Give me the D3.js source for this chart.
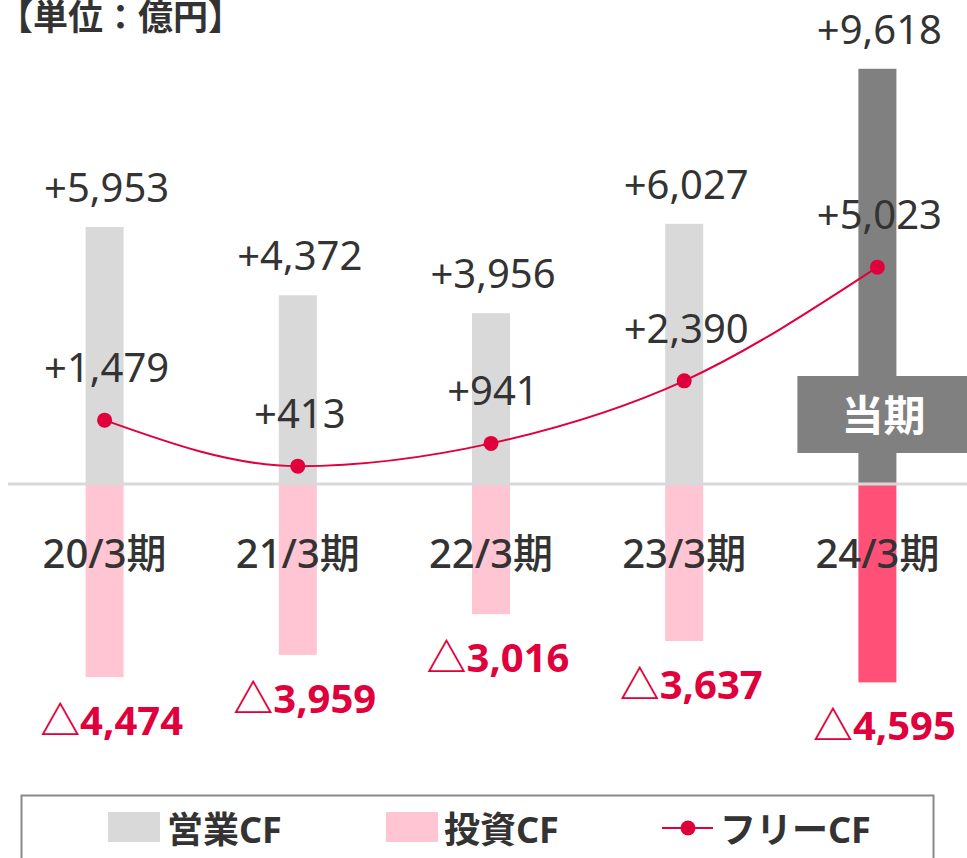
<!DOCTYPE html>
<html>
<head>
<meta charset="utf-8">
<script src="https://cdn.jsdelivr.net/npm/d3@7"></script>
<style>
  body { margin: 0; background: #fff; }
  svg { display: block; font-family: "Noto Sans", "Noto Sans CJK JP", sans-serif; }
</style>
</head>
<body>
<svg id="chart" width="967" height="858"></svg>
<script>
// data (億円)
const periods = ['20/3期', '21/3期', '22/3期', '23/3期', '24/3期'];
const operatingCF = [5953, 4372, 3956, 6027, 9618];
const investingCF = [-4474, -3959, -3016, -3637, -4595];
const freeCF = [1479, 413, 941, 2390, 5023];
const unitLabel = '【単位：億円】';
const currentLabel = '当期';
const legendNames = ['営業CF', '投資CF', 'フリーCF'];

const svg = d3.select('#chart'),
  W = 967,
  base = 484,
  k = 0.04317;

const x = d3.scaleBand().domain(periods).range([8, 974]);
const cx = d => x(d) + x.bandwidth() / 2;
const y = d3.scaleLinear().domain([-5000, 10000]).range([base + 5000 * k, base - 10000 * k]);
const fmt = d3.format(',');
const last = periods.length - 1;
const barW = 38;

// unit
svg.append('text')
  .attr('x', -2).attr('y', 30)
  .attr('font-size', 35).attr('font-weight', 'bold')
  .attr('fill', '#333')
  .text(unitLabel);

// operating CF bars
svg.selectAll('rect.op')
  .data(operatingCF)
  .enter().append('rect')
  .attr('class', 'op')
  .attr('x', (d, i) => cx(periods[i]) - barW / 2)
  .attr('y', d => y(d))
  .attr('width', barW)
  .attr('height', d => y(0) - y(d))
  .attr('fill', (d, i) => i === last ? '#808080' : '#d9d9d9');

// investing CF bars
svg.selectAll('rect.inv')
  .data(investingCF)
  .enter().append('rect')
  .attr('class', 'inv')
  .attr('x', (d, i) => cx(periods[i]) - barW / 2)
  .attr('y', y(0))
  .attr('width', barW)
  .attr('height', d => y(d) - y(0))
  .attr('fill', (d, i) => i === last ? '#ff5078' : '#ffc5d2');

// zero line
svg.append('line')
  .attr('x1', 8).attr('x2', W)
  .attr('y1', y(0)).attr('y2', y(0))
  .attr('stroke', '#d9d9d9').attr('stroke-width', 3);

// current period badge
const bx = cx(periods[last]);
svg.append('rect')
  .attr('x', bx - 80).attr('y', 376)
  .attr('width', 170).attr('height', 77)
  .attr('fill', '#808080');
svg.append('text')
  .attr('x', bx + 6).attr('y', 431)
  .attr('text-anchor', 'middle')
  .attr('font-size', 42).attr('font-weight', 'bold')
  .attr('fill', '#fff')
  .text(currentLabel);

// category labels
svg.selectAll('text.cat')
  .data(periods)
  .enter().append('text')
  .attr('class', 'cat')
  .attr('x', d => cx(d))
  .attr('y', 568)
  .attr('text-anchor', 'middle')
  .attr('font-size', 40).attr('font-weight', 500)
  .attr('fill', '#333')
  .text(d => d);

// free CF line
const line = d3.line()
  .x((d, i) => cx(periods[i]))
  .y(d => y(d))
  .curve(d3.curveMonotoneX);

svg.append('path')
  .attr('d', line(freeCF))
  .attr('fill', 'none')
  .attr('stroke', '#e0003c')
  .attr('stroke-width', 2);

svg.selectAll('circle.fcf')
  .data(freeCF)
  .enter().append('circle')
  .attr('class', 'fcf')
  .attr('cx', (d, i) => cx(periods[i]))
  .attr('cy', d => y(d))
  .attr('r', 7.5)
  .attr('fill', '#e0003c');

// labels
svg.selectAll('text.opl')
  .data(operatingCF)
  .enter().append('text')
  .attr('class', 'opl')
  .attr('x', (d, i) => cx(periods[i]) + 2)
  .attr('y', d => y(d) - 25)
  .attr('text-anchor', 'middle')
  .attr('font-size', 40)
  .attr('fill', '#333')
  .text(d => '+' + fmt(d));

svg.selectAll('text.fcfl')
  .data(freeCF)
  .enter().append('text')
  .attr('class', 'fcfl')
  .attr('x', (d, i) => cx(periods[i]) + 2)
  .attr('y', d => y(d) - 38)
  .attr('text-anchor', 'middle')
  .attr('font-size', 40)
  .attr('fill', '#333')
  .text(d => '+' + fmt(d));

svg.selectAll('text.invl')
  .data(investingCF)
  .enter().append('text')
  .attr('class', 'invl')
  .attr('x', (d, i) => cx(periods[i]) + 7)
  .attr('y', d => y(d) + 58)
  .attr('text-anchor', 'middle')
  .attr('font-size', 40).attr('font-weight', 'bold')
  .attr('fill', '#e0003c')
  .text(d => '△' + fmt(-d));

// legend
svg.append('rect')
  .attr('x', 21.5).attr('y', 795.5)
  .attr('width', 912).attr('height', 80)
  .attr('fill', 'none')
  .attr('stroke', '#888').attr('stroke-width', 2);

const lg = svg.append('g').attr('font-size', 36).attr('font-weight', 'bold').attr('fill', '#333');
lg.append('rect').attr('x', 108).attr('y', 812).attr('width', 52).attr('height', 30).attr('fill', '#d9d9d9');
lg.append('text').attr('x', 167).attr('y', 843).text(legendNames[0]);
lg.append('rect').attr('x', 386).attr('y', 812).attr('width', 52).attr('height', 30).attr('fill', '#ffc5d2');
lg.append('text').attr('x', 444).attr('y', 843).text(legendNames[1]);
lg.append('line').attr('x1', 662).attr('x2', 713).attr('y1', 828).attr('y2', 828)
  .attr('stroke', '#e0003c').attr('stroke-width', 2);
lg.append('circle').attr('cx', 688).attr('cy', 828).attr('r', 7.5).attr('fill', '#e0003c');
lg.append('text').attr('x', 720).attr('y', 843).text(legendNames[2]);
</script>
</body>
</html>
